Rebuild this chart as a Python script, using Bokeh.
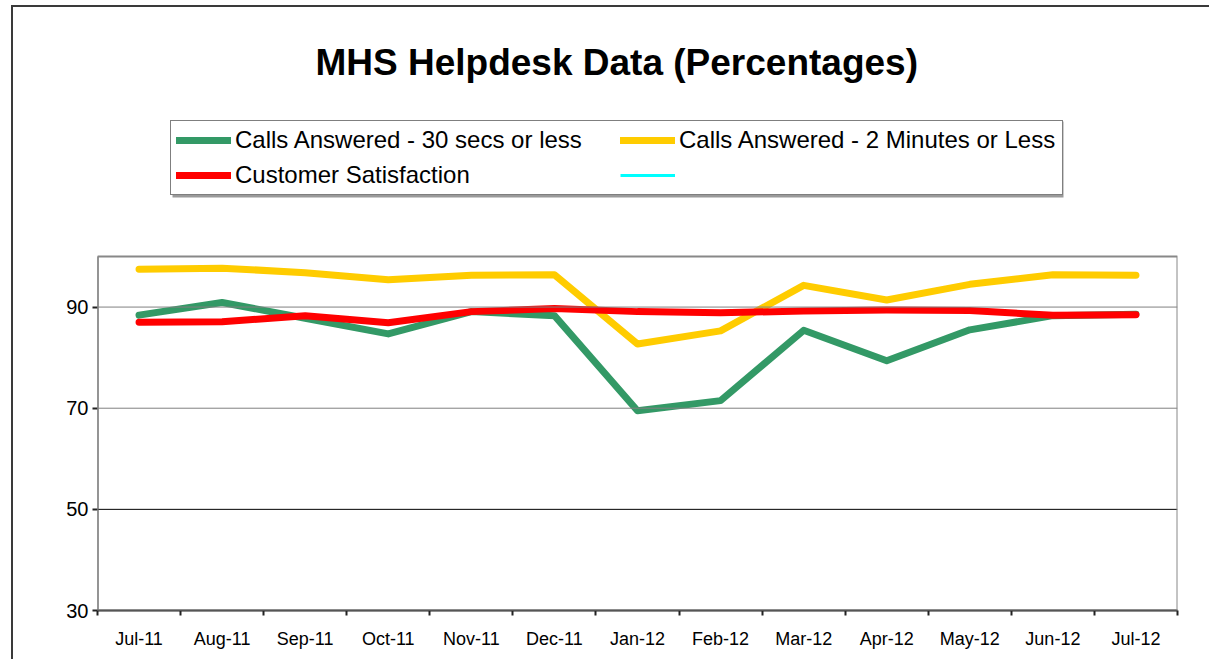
import numpy as np
from bokeh.plotting import figure
from bokeh.models import (Range1d, FixedTicker, Legend, LegendItem, Span, Label, BoxAnnotation)
from bokeh.embed import file_html
from bokeh.resources import INLINE

months = ["Jul-11", "Aug-11", "Sep-11", "Oct-11", "Nov-11", "Dec-11", "Jan-12",
          "Feb-12", "Mar-12", "Apr-12", "May-12", "Jun-12", "Jul-12"]
calls_30s = [88.4, 90.9, 87.8, 84.7, 89.1, 88.3, 69.5, 71.5, 85.4, 79.4, 85.5, 88.3, 88.6]
calls_2min = [97.5, 97.7, 96.8, 95.4, 96.3, 96.4, 82.7, 85.3, 94.3, 91.4, 94.5, 96.4, 96.3]
satisfaction = [87.0, 87.1, 88.3, 86.9, 89.1, 89.7, 89.1, 88.9, 89.2, 89.4, 89.3, 88.4, 88.5]
unnamed_series = [np.nan] * len(months)   # fourth series: legend entry only, no values shown
y_ticks = [30, 50, 70, 90]
y_min, y_max = 30, 100
title_text = "MHS Helpdesk Data (Percentages)"
names = ["Calls Answered - 30 secs or less", "Calls Answered - 2 Minutes or Less",
         "Customer Satisfaction", "\u00a0"]

n = len(months)
xs = np.arange(n) + 0.5

# layout (pixels)
W, H = 1198, 654
B_LEFT, B_RIGHT, B_BOTTOM = 84, 34, 51
PLOT_H = 354            # height of the value area (30..100)
frame_h = H - B_BOTTOM
top_value = y_max + (frame_h - PLOT_H) * (y_max - y_min) / PLOT_H

p = figure(width=W, height=H, output_backend="svg", toolbar_location=None,
           x_range=Range1d(0, n), y_range=Range1d(y_min, top_value),
           min_border_left=B_LEFT, min_border_right=B_RIGHT, min_border_top=0,
           min_border_bottom=B_BOTTOM,
           background_fill_color="white", border_fill_color="white")
p.styles = {"border-left": "2px solid #3a3a3a", "border-top": "2px solid #3a3a3a",
            "margin-left": "11px", "margin-top": "5px"}
p.outline_line_color = None

FONT = "Liberation Sans"

# x axis
p.xaxis.ticker = FixedTicker(ticks=list(xs), minor_ticks=list(range(n + 1)))
p.xaxis.major_label_overrides = {float(x): m for x, m in zip(xs, months)}
p.xaxis.major_tick_line_color = None
p.xaxis.minor_tick_in = 0
p.xaxis.minor_tick_out = 5
p.xaxis.minor_tick_line_color = "#222222"
p.xaxis.minor_tick_line_width = 2
p.xaxis.axis_line_color = "#222222"
p.xaxis.axis_line_width = 2
p.xaxis.major_label_text_font = FONT
p.xaxis.major_label_text_font_size = "18px"
p.xaxis.major_label_text_color = "black"
p.xaxis.major_label_standoff = 12

# y axis
p.yaxis.ticker = FixedTicker(ticks=y_ticks)
p.yaxis.major_tick_in = 0
p.yaxis.major_tick_out = 5
p.yaxis.major_tick_line_color = "#222222"
p.yaxis.major_tick_line_width = 2
p.yaxis.minor_tick_line_color = None
p.yaxis.axis_line_color = None
p.yaxis.major_label_text_font = FONT
p.yaxis.major_label_text_font_size = "20px"
p.yaxis.major_label_text_color = "black"
p.yaxis.major_label_standoff = 4

p.xgrid.grid_line_color = None
p.ygrid.grid_line_color = None
for t, c in zip(y_ticks[1:], ["#000000", "#808080", "#808080"]):
    p.add_layout(Span(location=t, dimension="width", line_color=c, line_width=1))

# plot-area box (value range only)
p.add_layout(BoxAnnotation(left=0, right=n, bottom=y_min, top=y_max,
                           fill_alpha=0, line_color="#888888", line_alpha=1, line_width=2))
p.segment(x0=[0], y0=[y_min], x1=[0], y1=[y_max], line_color="#444444", line_width=2)

r1 = p.line(xs, calls_30s, line_color="#339966", line_width=7, line_join="round", line_cap="round")
r2 = p.line(xs, calls_2min, line_color="#FFCC00", line_width=7, line_join="round", line_cap="round")
r3 = p.line(xs, satisfaction, line_color="#FF0000", line_width=7, line_join="round", line_cap="round")
r4 = p.line(xs, unnamed_series, line_color="#00FFFF", line_width=3)

# draw order: yellow, green, red on top
p.renderers = [r for r in p.renderers if r not in (r1, r2, r3, r4)] + [r2, r1, r3, r4]

# legend shadow
LEG_X, LEG_Y, LEG_W, LEG_H = 73, 415, 891, 76
p.add_layout(BoxAnnotation(left=LEG_X + 2, right=LEG_X + LEG_W + 2,
                           bottom=LEG_Y - 2, top=LEG_Y + LEG_H - 2,
                           left_units="screen", right_units="screen",
                           bottom_units="screen", top_units="screen",
                           fill_color="#9a9a9a", fill_alpha=1, line_color=None))

legend = Legend(items=[LegendItem(label=names[0], renderers=[r1]),
                       LegendItem(label=names[2], renderers=[r3]),
                       LegendItem(label=names[1], renderers=[r2]),
                       LegendItem(label=names[3], renderers=[r4])],
                ncols=2, location=(LEG_X, LEG_Y),
                border_line_color="black", border_line_width=1,
                background_fill_alpha=1, background_fill_color="white",
                label_text_font=FONT, label_text_font_size="24px", label_text_color="black",
                label_standoff=4, glyph_width=55, glyph_height=24,
                label_height=24, label_width=378, spacing=7, padding=5, margin=0)
p.add_layout(legend, "center")

p.add_layout(Label(x=218, y=548, x_units="screen", y_units="screen", text=title_text,
                   text_align="left", text_baseline="middle",
                   text_font=FONT, text_font_size="37px", text_font_style="bold",
                   text_color="black"))

open("out.html", "w").write(file_html(p, INLINE))
